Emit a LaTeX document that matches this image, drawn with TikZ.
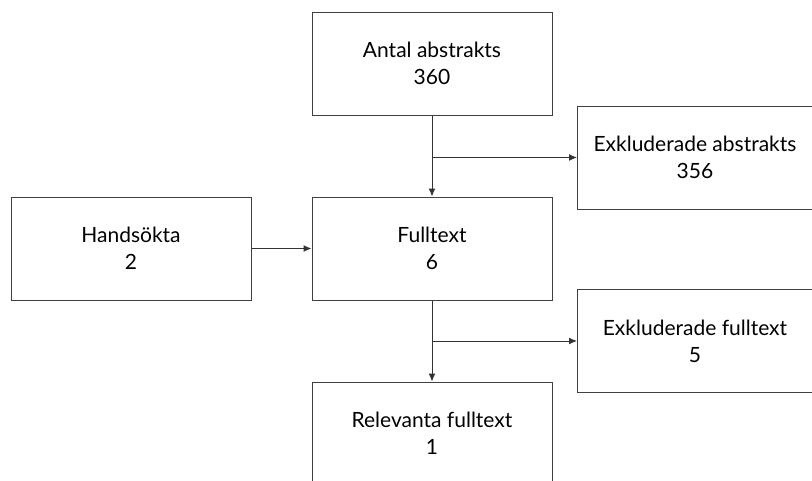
\documentclass[tikz,border=0pt]{standalone}
\usepackage{fontspec}
\setmainfont{Lato}
\usepackage{tikz}
\usetikzlibrary{arrows.meta}

\tikzset{
  boks/.style={draw=black!75, line width=1pt, minimum width=240pt, minimum height=103pt,
    align=center, inner sep=0pt, font=\fontsize{21}{27}\selectfont},
  utboks/.style={boks, minimum width=235pt},
  pil/.style={draw=black!80, line width=1pt, -{Latex[length=8pt,width=7pt]}}
}

\begin{document}
\begin{tikzpicture}[x=1pt, y=-1pt]
        \clip (0,0) rectangle (812,480);
        \fill[white] (0,0) rectangle (812,480);
     % boxes
        \node[boks] (antal) at (432,63.5) {Antal abstrakts\\360};
        \node[utboks] (exabs) at (695,157.5) {Exkluderade abstrakts\\356};
        \node[boks] (hand) at (131,248.5) {Handsökta\\2};
        \node[boks] (full) at (432,248.5) {Fulltext\\6};
        \node[utboks] (exfull) at (695,341) {Exkluderade fulltext\\5};
        \node[boks] (relev) at (432,433.5) {Relevanta fulltext\\1};
     % branch points
        \coordinate (g1) at (antal.south |- exabs.west);
        \coordinate (g2) at (full.south |- exfull.west);
     % arrows
        \draw[pil] (antal) -- (full);
        \draw[pil] (g1) -- (exabs);
        \draw[pil] (hand) -- (full);
        \draw[pil] (full) -- (relev);
        \draw[pil] (g2) -- (exfull);
\end{tikzpicture}
\end{document}
